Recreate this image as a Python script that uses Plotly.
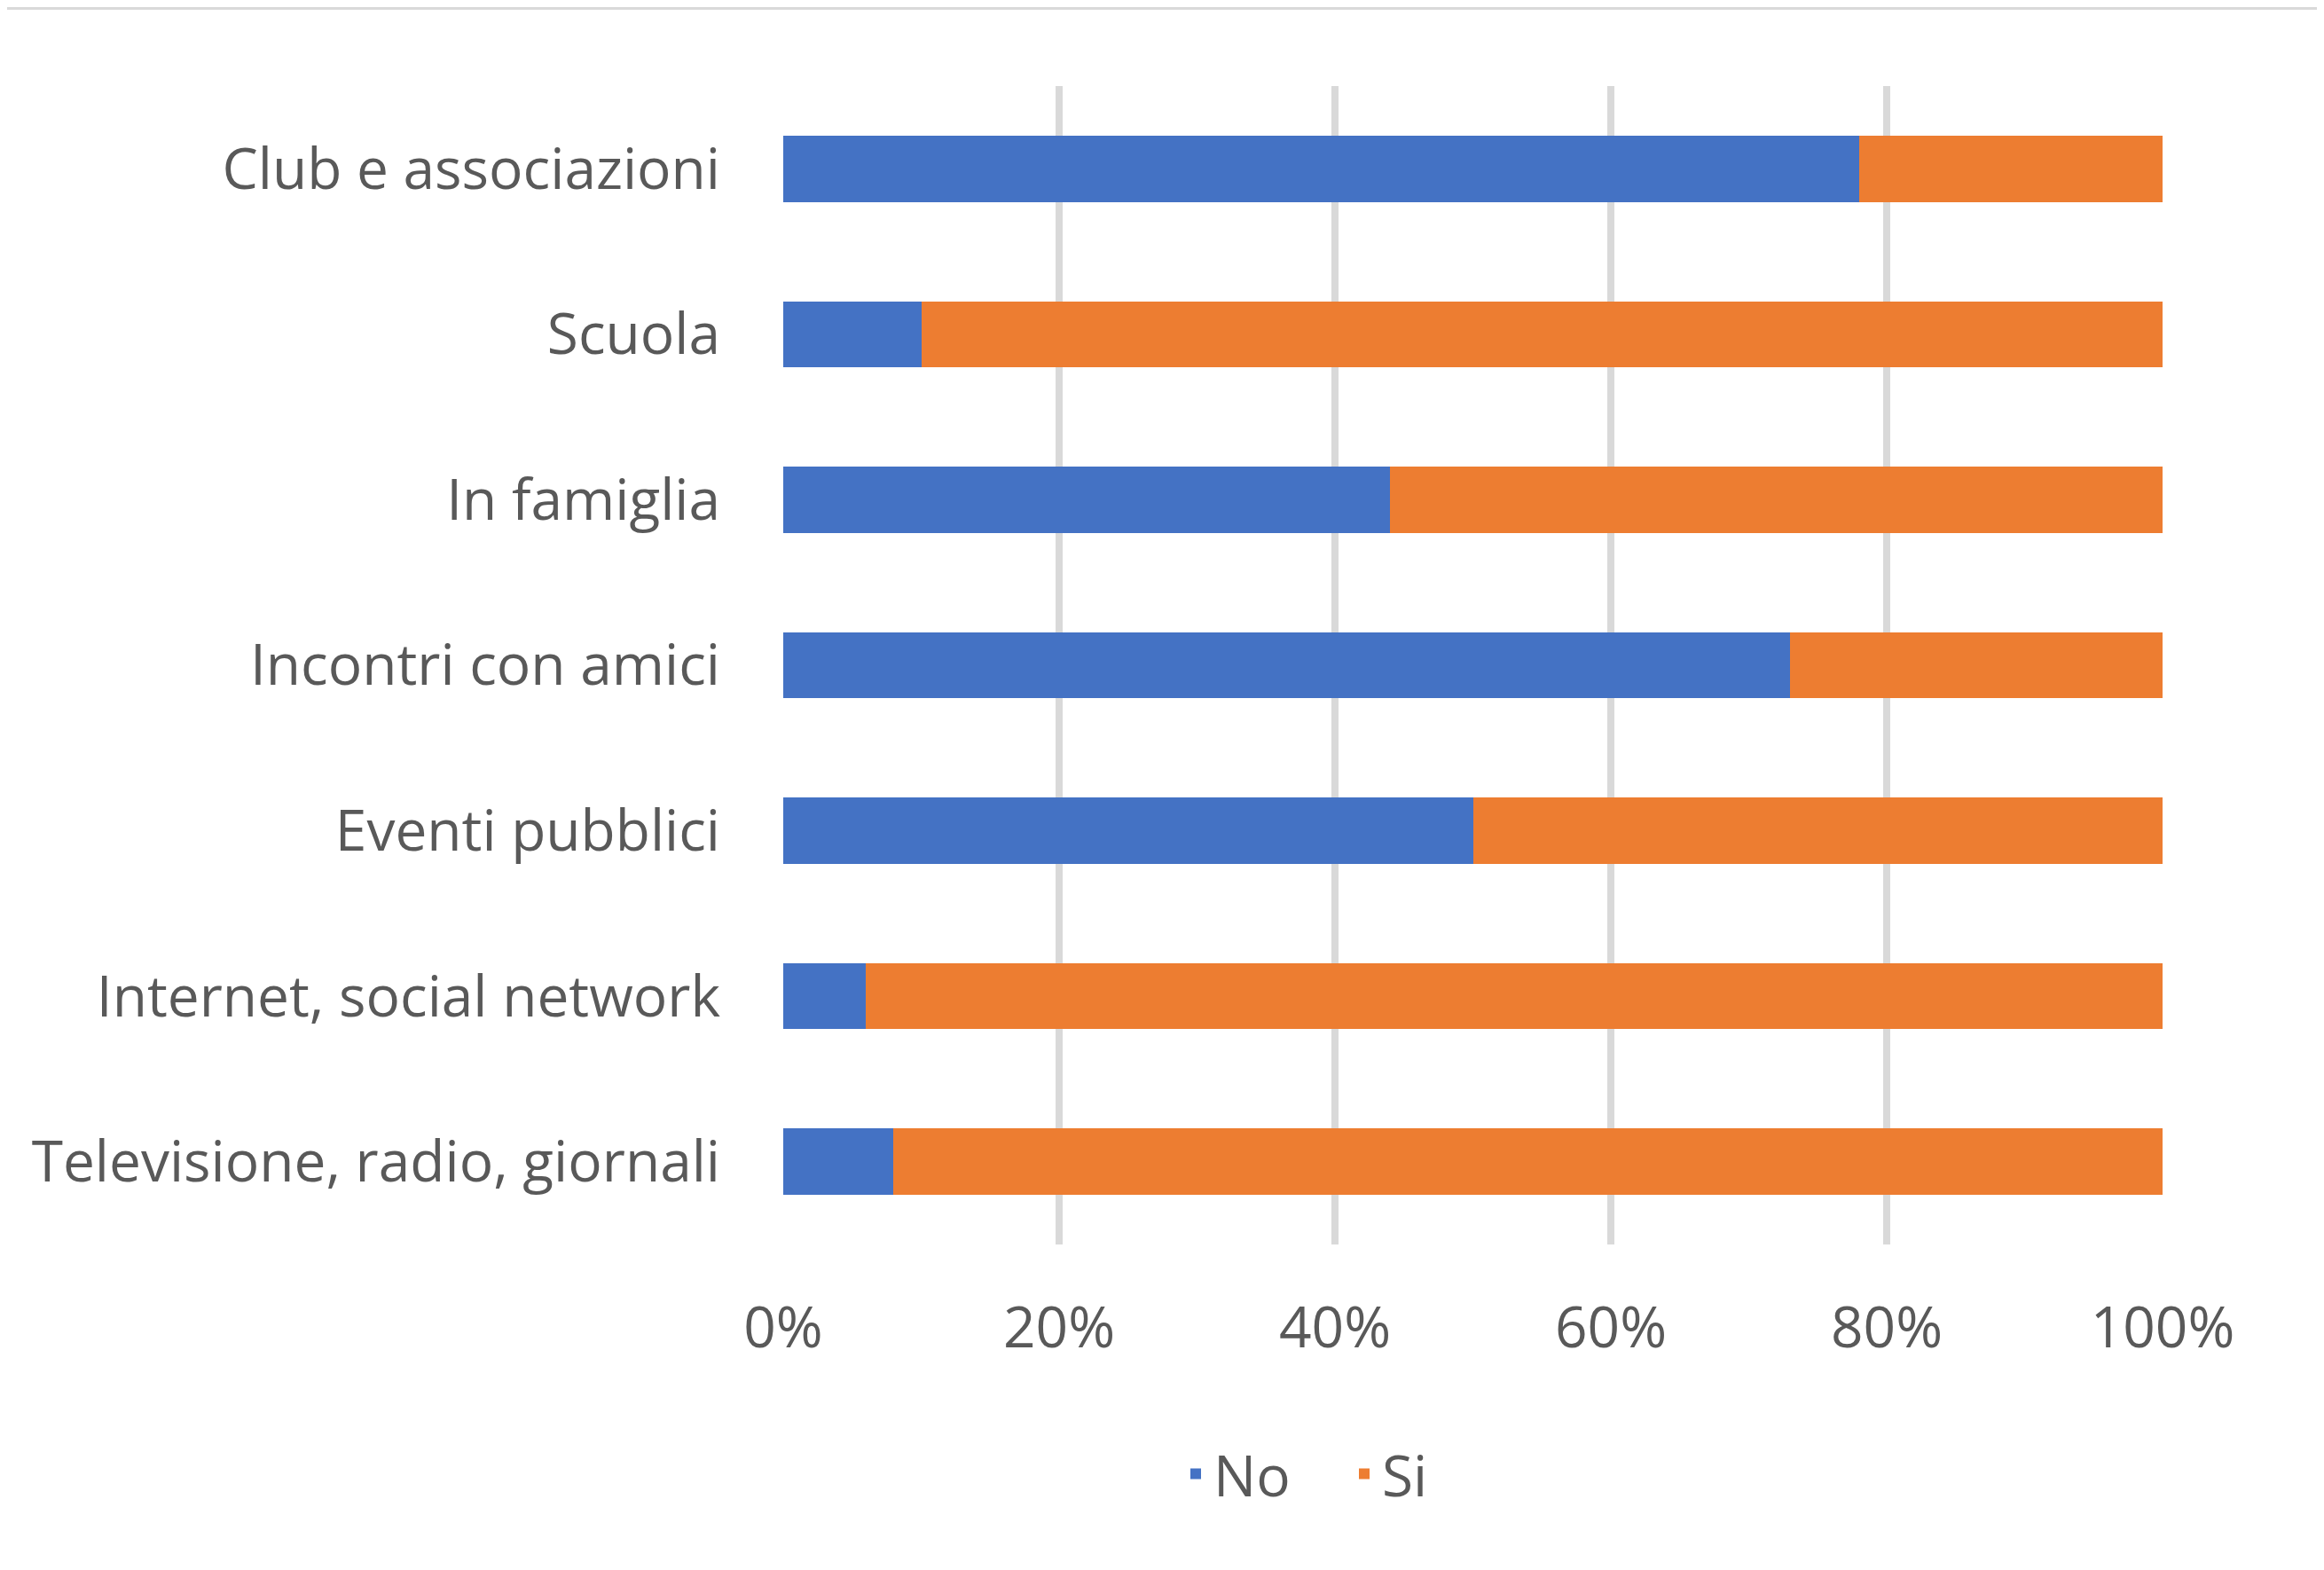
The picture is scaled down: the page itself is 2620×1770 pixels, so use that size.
import plotly.graph_objects as go

categories = [
    "Club e associazioni",
    "Scuola",
    "In famiglia",
    "Incontri con amici",
    "Eventi pubblici",
    "Internet, social network",
    "Televisione, radio, giornali",
]
no_values = [78, 10, 44, 73, 50, 6, 8]
si_values = [22, 90, 56, 27, 50, 94, 92]
tick_vals = [0, 20, 40, 60, 80, 100]
tick_text = ["0%", "20%", "40%", "60%", "80%", "100%"]

BLUE = "#4472C4"
ORANGE = "#ED7D31"
TEXT = "#595959"
GRID = "#D9D9D9"
FONT = "Open Sans"
FS = 64

W, H = 2612, 1762
L, R, T, B = 875, 182, 89, 367
plot_w = W - L - R
plot_h = H - T - B

fig = go.Figure()
fig.add_trace(go.Bar(y=categories, x=no_values, name="No", orientation="h",
                     marker=dict(color=BLUE, line=dict(width=0))))
fig.add_trace(go.Bar(y=categories, x=si_values, name="Si", orientation="h",
                     marker=dict(color=ORANGE, line=dict(width=0))))

fig.update_layout(
    width=W, height=H,
    margin=dict(l=L, r=R, t=T, b=B, pad=0),
    barmode="stack",
    bargap=0.6,
    paper_bgcolor="white",
    plot_bgcolor="white",
    font=dict(family=FONT, size=FS, color=TEXT),
    showlegend=True,
    legend=dict(orientation="h", x=(1320 - L) / plot_w, xanchor="left",
                y=-259 / plot_h, yanchor="middle", entrywidth=145, entrywidthmode="pixels",
                font=dict(size=FS, color=TEXT), traceorder="normal", itemwidth=30),
    xaxis=dict(range=[0, 100], tickvals=tick_vals, ticktext=tick_text,
               showgrid=True, gridcolor=GRID, gridwidth=8, zeroline=False,
               showline=False, ticks="", ticklabelstandoff=51,
               tickfont=dict(size=FS, color=TEXT)),
    yaxis=dict(autorange="reversed", showgrid=False, zeroline=False, showline=False,
               ticks="", ticklabelstandoff=70, tickfont=dict(size=FS, color=TEXT)),
    shapes=[
        dict(type="rect", xref="paper", yref="paper",
             x0=-L / plot_w, x1=(W - L) / plot_w,
             y0=1 + (T - 3) / plot_h, y1=1 + T / plot_h,
             fillcolor="#D9D9D9", line=dict(width=0), layer="above"),
    ],
)

fig.write_html("out.html")
